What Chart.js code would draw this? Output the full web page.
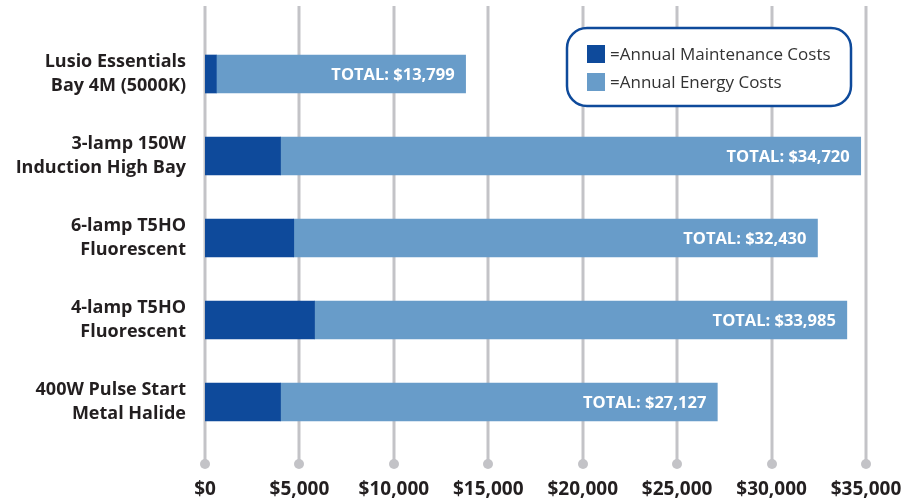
<!DOCTYPE html>
<html>
<head>
<meta charset="utf-8">
<script src="https://cdn.jsdelivr.net/npm/chart.js@4.4.1/dist/chart.umd.min.js"></script>
<style>
  html, body { margin: 0; padding: 0; background: #fff; }
  #wrap { width: 904px; height: 502px; }
</style>
</head>
<body>
<div id="wrap"><canvas id="costChart"></canvas></div>
<script>
// fixtures and annual costs
const fixtures = [
    ['Lusio Essentials', 'Bay 4M (5000K)'],
    ['3-lamp 150W', 'Induction High Bay'],
    ['6-lamp T5HO', 'Fluorescent'],
    ['4-lamp T5HO', 'Fluorescent'],
    ['400W Pulse Start', 'Metal Halide']
];
const maintenanceCosts = [600, 4000, 4700, 5800, 4000];
const energyCosts = [13199, 30720, 27730, 28185, 23127];
const totalCosts = [13799, 34720, 32430, 33985, 27127];
const xTicks = [0, 5000, 10000, 15000, 20000, 25000, 30000, 35000];

const darkBlue = '#0e4a9b';
const lightBlue = '#689cc9';
const gridGray = '#c3c3c7';
const textDark = '#231f20';

Chart.defaults.font.family = '"Open Sans", sans-serif';

function money(v) {
    return '$' + v.toLocaleString('en-US');
}

// vertical grid lines with a dot at the bottom
const gridDots = {
    id: 'gridDots',
    beforeDatasetsDraw(chart) {
        const ctx = chart.ctx;
        const x = chart.scales.x;
        const dotY = chart.chartArea.bottom + 21;
        ctx.save();
        ctx.strokeStyle = gridGray;
        ctx.fillStyle = gridGray;
        ctx.lineWidth = 3;
        xTicks.forEach(v => {
            const px = Math.round(x.getPixelForValue(v));
            ctx.beginPath();
            ctx.moveTo(px, 6);
            ctx.lineTo(px, dotY);
            ctx.stroke();
            ctx.beginPath();
            ctx.arc(px, dotY, 5, 0, Math.PI * 2);
            ctx.fill();
        });
        ctx.restore();
    }
};

// "TOTAL: $..." text inside end of each bar
const totalLabels = {
    id: 'totalLabels',
    afterDatasetsDraw(chart) {
        const ctx = chart.ctx;
        const meta = chart.getDatasetMeta(1);
        ctx.save();
        ctx.fillStyle = '#ffffff';
        ctx.font = 'bold 16.5px "Open Sans", sans-serif';
        ctx.textAlign = 'right';
        ctx.textBaseline = 'middle';
        meta.data.forEach((bar, i) => {
            ctx.fillText('TOTAL: ' + money(totalCosts[i]), bar.x - 11, bar.y + 1);
        });
        ctx.restore();
    }
};

// rounded legend box at top right
const legendBox = {
    id: 'legendBox',
    afterDraw(chart) {
        const ctx = chart.ctx;
        ctx.save();
        ctx.fillStyle = '#ffffff';
        ctx.strokeStyle = darkBlue;
        ctx.lineWidth = 2.5;
        ctx.beginPath();
        ctx.roundRect(567, 28, 284, 78, 20);
        ctx.fill();
        ctx.stroke();

        const items = [
            { color: darkBlue, text: '=Annual Maintenance Costs', y: 54 },
            { color: lightBlue, text: '=Annual Energy Costs', y: 82 }
        ];
        ctx.font = '17px "Open Sans", sans-serif';
        ctx.textBaseline = 'middle';
        items.forEach(it => {
            ctx.fillStyle = it.color;
            ctx.fillRect(587, it.y - 9, 18, 18);
            ctx.fillStyle = '#333333';
            ctx.fillText(it.text, 610, it.y + 1);
        });
        ctx.restore();
    }
};

const ctx = document.getElementById('costChart').getContext('2d');
new Chart(ctx, {
    type: 'bar',
    data: {
        labels: fixtures,
        datasets: [
            {
                label: 'Annual Maintenance Costs',
                data: maintenanceCosts,
                backgroundColor: darkBlue,
                borderWidth: 0,
                barThickness: 38
            },
            {
                label: 'Annual Energy Costs',
                data: energyCosts,
                backgroundColor: lightBlue,
                borderWidth: 0,
                barThickness: 38
            }
        ]
    },
    options: {
        indexAxis: 'y',
        responsive: true,
        maintainAspectRatio: false,
        animation: false,
        layout: { padding: { top: 33, right: 38, bottom: 0, left: 0 } },
        plugins: {
            legend: { display: false },
            tooltip: { enabled: false }
        },
        scales: {
            x: {
                stacked: true,
                min: 0,
                max: 35000,
                grid: { display: false },
                border: { display: false },
                afterBuildTicks(scale) {
                    scale.ticks = xTicks.map(v => ({ value: v }));
                },
                afterFit(scale) {
                    scale.height = 59;
                    scale.paddingLeft = 0;
                    scale.paddingRight = 0;
                },
                ticks: {
                    padding: 27,
                    color: textDark,
                    font: { size: 19, weight: 'bold' },
                    maxRotation: 0,
                    callback: v => money(v)
                }
            },
            y: {
                stacked: true,
                grid: { display: false },
                border: { display: false },
                afterFit(scale) {
                    scale.width = 205;
                    scale.paddingTop = 0;
                    scale.paddingBottom = 0;
                },
                ticks: {
                    padding: 11,
                    color: textDark,
                    font: { size: 18, weight: 'bold', lineHeight: 1.3 }
                }
            }
        }
    },
    plugins: [gridDots, totalLabels, legendBox]
});
</script>
</body>
</html>
